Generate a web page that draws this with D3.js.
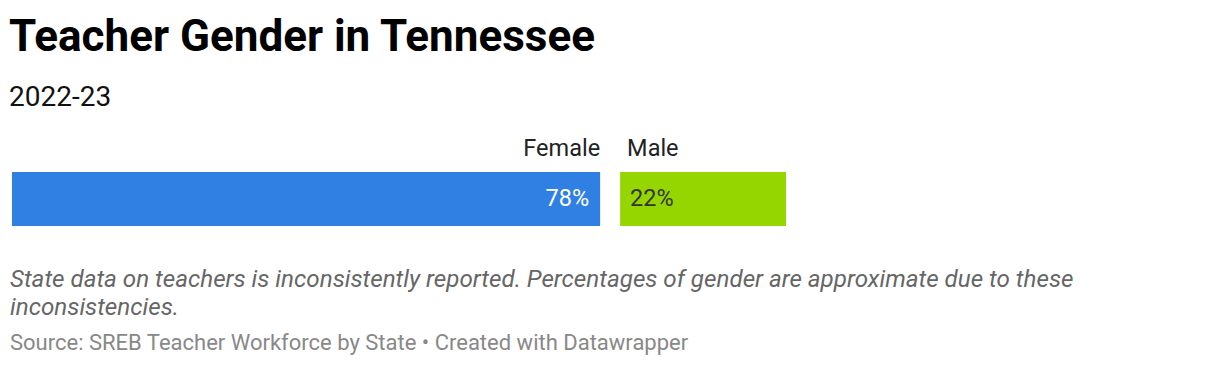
<!DOCTYPE html>
<html>
<head>
<meta charset="utf-8">
<script src="https://cdn.jsdelivr.net/npm/d3@7"></script>
<style>
  body { margin: 0; background: #fff; font-family: Roboto, sans-serif; }
</style>
</head>
<body>
<script>
const width = 1220;
const height = 368;

const categories = ['Female', 'Male'];
const values = [78, 22];
const colors = ['#2f80e2', '#96d600'];

const svg = d3.select('body').append('svg').attr('width', width).attr('height', height);

svg.append('text').attr('x', 9).attr('y', 51)
  .attr('font-size', 44).attr('font-weight', 700).attr('fill', '#000')
  .text('Teacher Gender in Tennessee');

svg.append('text').attr('x', 9).attr('y', 106)
  .attr('font-size', 28).attr('fill', '#111')
  .text('2022-23');

// stacked bar with a 20px gap between segments
const left = 12;
const gap = 20;
const x = d3.scaleLinear().domain([0, 100]).range([0, 754]);

let offset = left;
const segs = values.map((v, i) => {
  const s = { name: categories[i], value: v, x0: offset, w: x(v), color: colors[i] };
  offset += x(v) + gap;
  return s;
});

const barY = 172;
const barH = 54;

svg.selectAll('rect.seg').data(segs).enter().append('rect')
  .attr('class', 'seg')
  .attr('x', d => d.x0).attr('y', barY)
  .attr('width', d => d.w).attr('height', barH)
  .attr('fill', d => d.color);

svg.selectAll('text.cat').data(segs).enter().append('text')
  .attr('class', 'cat')
  .attr('x', (d, i) => i === 0 ? d.x0 + d.w : d.x0 + 7)
  .attr('y', 156)
  .attr('text-anchor', (d, i) => i === 0 ? 'end' : 'start')
  .attr('font-size', 23.5).attr('fill', '#222')
  .text(d => d.name);

svg.selectAll('text.val').data(segs).enter().append('text')
  .attr('class', 'val')
  .attr('x', (d, i) => i === 0 ? d.x0 + d.w - 11 : d.x0 + 10)
  .attr('y', barY + 34)
  .attr('text-anchor', (d, i) => i === 0 ? 'end' : 'start')
  .attr('font-size', 23.5)
  .attr('fill', (d, i) => i === 0 ? '#fff' : '#333')
  .text(d => d.value + '%');

const notes = [
  'State data on teachers is inconsistently reported. Percentages of gender are approximate due to these',
  'inconsistencies.'
];
svg.selectAll('text.note').data(notes).enter().append('text')
  .attr('class', 'note')
  .attr('x', 10).attr('y', (d, i) => 287 + i * 28)
  .attr('font-size', 24.2).attr('font-style', 'italic').attr('fill', '#666')
  .text(d => d);

svg.append('text').attr('x', 10).attr('y', 350)
  .attr('font-size', 22).attr('fill', '#888')
  .text('Source: SREB Teacher Workforce by State \u2022 Created with Datawrapper');
</script>
</body>
</html>
